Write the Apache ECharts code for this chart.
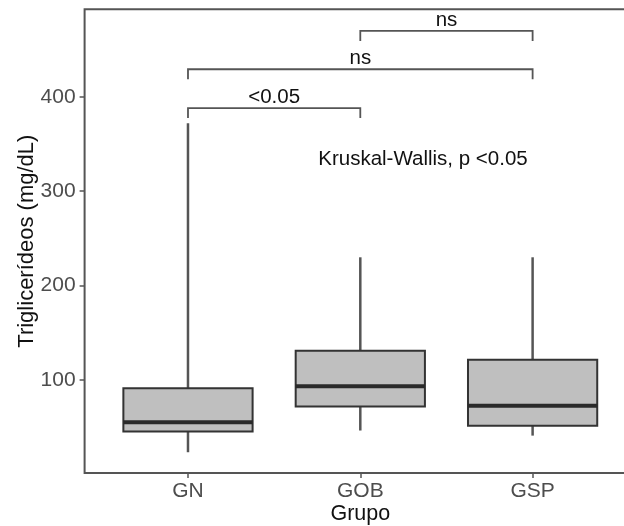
<!DOCTYPE html>
<html>
<head>
<meta charset="utf-8">
<script src="https://cdn.jsdelivr.net/npm/echarts@6/dist/echarts.min.js"></script>
<style>
html,body{margin:0;padding:0;background:#fff;}
#chart{width:624px;height:526px;}
</style>
</head>
<body>
<div id="chart"></div>
<script>
const categories = ['GN', 'GOB', 'GSP'];
const lowWhisker = [23.5, 46.5, 41.1];
const q1 = [45.4, 72.0, 51.6];
const median = [55.3, 93.3, 72.7];
const q3 = [91.4, 131.0, 121.4];
const highWhisker = [372, 230, 230];
const yTicks = [100, 200, 300, 400];
const bracketFrom = [1, 1, 2];
const bracketTo = [2, 3, 3];
const bracketY = [388.1, 429.2, 469.8];
const bracketLabels = ['<0.05', 'ns', 'ns'];
const kwText = 'Kruskal-Wallis, p <0.05';
const kwX = 1.756;
const kwY = 333.7;

const boxData = categories.map((c, i) => [i + 1, lowWhisker[i], q1[i], median[i], q3[i], highWhisker[i]]);
const bracketData = bracketLabels.map((l, i) => [bracketFrom[i], bracketTo[i], bracketY[i], l]);

const FONT = 'Liberation Sans, Arial, sans-serif';
const chart = echarts.init(document.getElementById('chart'), null, {renderer: 'canvas'});

chart.setOption({
  animation: false,
  backgroundColor: '#ffffff',
  grid: {left: 84.6, top: 9.3, width: 551.4, height: 463.7, show: true, borderColor: '#555555', borderWidth: 2, backgroundColor: 'transparent', containLabel: false, outerBoundsMode: 'none'},
  xAxis: {
    type: 'value', min: 0.4, max: 3.6,
    name: 'Grupo', nameLocation: 'middle', nameGap: 30, nameMoveOverlap: false,
    nameTextStyle: {color: '#111', fontSize: 21.5, fontFamily: FONT, verticalAlign: 'top'},
    axisLine: {show: false},
    splitLine: {show: false},
    axisTick: {show: true, length: 5, lineStyle: {color: '#555', width: 1.5}, customValues: [1, 2, 3]},
    axisLabel: {customValues: [1, 2, 3], formatter: v => categories[Math.round(v) - 1] || '', color: '#4d4d4d', fontSize: 21, fontFamily: FONT, margin: 8}
  },
  yAxis: {
    type: 'value', min: 1.5, max: 492.7,
    name: 'Triglicerídeos (mg/dL)', nameLocation: 'middle', nameGap: 47, nameMoveOverlap: false,
    nameTextStyle: {color: '#111', fontSize: 22, fontFamily: FONT},
    axisLine: {show: false},
    splitLine: {show: false},
    axisTick: {show: true, length: 5, lineStyle: {color: '#555', width: 1.5}, customValues: yTicks},
    axisLabel: {customValues: yTicks, color: '#4d4d4d', fontSize: 21, fontFamily: FONT, margin: 9}
  },
  series: [
    {
      type: 'custom',
      data: boxData,
      encode: {x: 0, y: [1, 2, 3, 4, 5]},
      renderItem: function (params, api) {
        const x = api.value(0);
        const half = api.size([0.75, 0])[0] / 2;
        const pLow = api.coord([x, api.value(1)]);
        const pQ1 = api.coord([x, api.value(2)]);
        const pMed = api.coord([x, api.value(3)]);
        const pQ3 = api.coord([x, api.value(4)]);
        const pHigh = api.coord([x, api.value(5)]);
        return {
          type: 'group',
          children: [
            {type: 'line', shape: {x1: pLow[0], y1: pLow[1], x2: pQ1[0], y2: pQ1[1]}, style: {stroke: '#555', lineWidth: 2.5}},
            {type: 'line', shape: {x1: pQ3[0], y1: pQ3[1], x2: pHigh[0], y2: pHigh[1]}, style: {stroke: '#555', lineWidth: 2.5}},
            {type: 'rect', shape: {x: pQ3[0] - half, y: pQ3[1], width: half * 2, height: pQ1[1] - pQ3[1]}, style: {fill: '#bfbfbf', stroke: '#333', lineWidth: 2}},
            {type: 'line', shape: {x1: pMed[0] - half, y1: pMed[1], x2: pMed[0] + half, y2: pMed[1]}, style: {stroke: '#2a2a2a', lineWidth: 4}}
          ]
        };
      }
    },
    {
      type: 'custom',
      data: bracketData,
      encode: {x: [0, 1], y: 2},
      renderItem: function (params, api) {
        const x1 = api.value(0), x2 = api.value(1), y = api.value(2);
        const label = bracketData[params.dataIndex][3];
        const a = api.coord([x1, y]);
        const b = api.coord([x2, y]);
        return {
          type: 'group',
          children: [
            {type: 'polyline', shape: {points: [[a[0], a[1] + 10], [a[0], a[1]], [b[0], b[1]], [b[0], b[1] + 10]]}, style: {stroke: '#555', lineWidth: 1.8, fill: null}},
            {type: 'text', style: {text: label, x: (a[0] + b[0]) / 2, y: a[1] - 10.5, textAlign: 'center', textVerticalAlign: 'middle', fill: '#111', font: '20.5px ' + FONT}}
          ]
        };
      }
    },
    {
      type: 'custom',
      data: [[kwX, kwY]],
      renderItem: function (params, api) {
        const p = api.coord([api.value(0), api.value(1)]);
        return {type: 'text', style: {text: kwText, x: p[0], y: p[1], textAlign: 'left', textVerticalAlign: 'middle', fill: '#111', font: '20.5px ' + FONT}};
      }
    }
  ]
});
</script>
</body>
</html>
